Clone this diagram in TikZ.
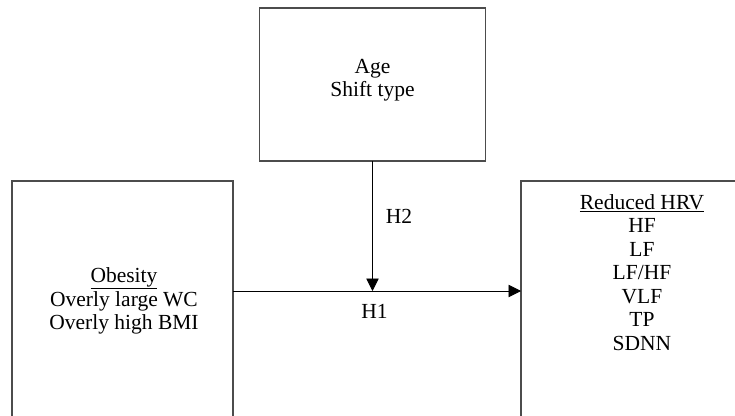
\documentclass[tikz,border=0pt]{standalone}
\usepackage{fontspec}
\setmainfont{Liberation Serif}
\usepackage{tikz}
\usetikzlibrary{arrows.meta,calc}
\tikzset{
  boxnode/.style={draw=black!70, line width=1.4pt, rectangle, inner sep=0pt, outer sep=0pt},
  txtnode/.style={align=center, font=\fontsize{21.5}{23.5}\selectfont, inner sep=0pt},
  link/.style={line width=0.9pt, -{Triangle[length=12.5pt,width=12.5pt]}}
}

\begin{document}
\begin{tikzpicture}[x=1pt, y=-1pt]
\useasboundingbox (0,0) rectangle (735,415);
\clip (0,0) rectangle (735,415);

\node[boxnode, minimum width=226.5pt, minimum height=153pt] (age) at (372.5,84.5) {};
\node[boxnode, minimum width=221pt, minimum height=238pt] (obesity) at (122.5,300) {};
\node[boxnode, minimum width=242pt, minimum height=238pt] (hrv) at (642,300) {};

\node[txtnode] (agetxt) at (372.5,80) {Age\\Shift type};
\node[txtnode] (obesitytxt) at (124,301) {\underline{Obesity}\\Overly large WC\\Overly high BMI};
\node[txtnode, anchor=north] (hrvtxt) at (642,194) {\underline{Reduced HRV}\\HF\\LF\\LF/HF\\VLF\\TP\\SDNN};

%\coordinate (join) at (372.5,291);
\coordinate (join) at (age.south |- 0,291);
\draw[link] (obesity.east |- join) -- (hrv.west |- join);
\draw[link] (age.south) -- (join);

\node[txtnode] (h2) at (399,216) {H2};
\node[txtnode] (h1) at (374.5,311) {H1};
\end{tikzpicture}
\end{document}
